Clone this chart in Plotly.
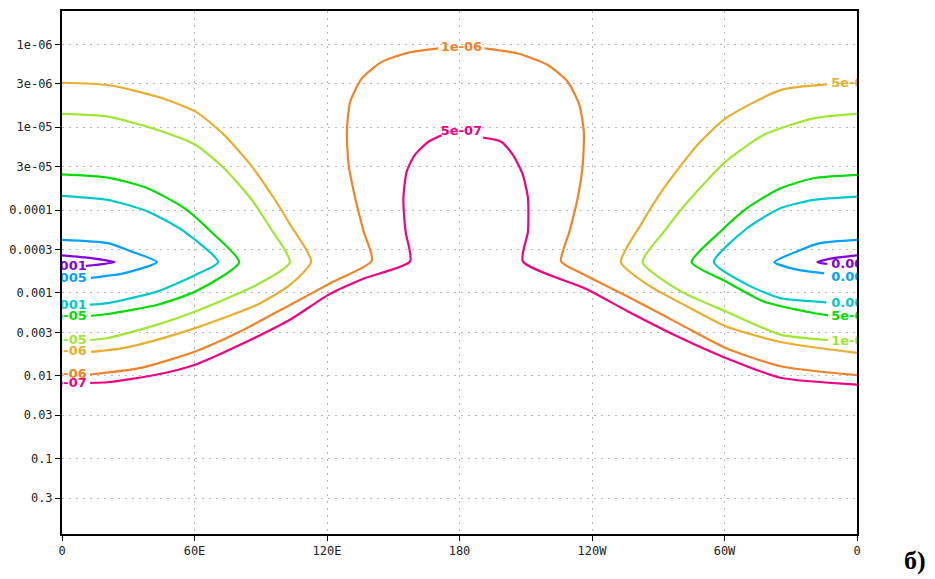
import math
import plotly.graph_objects as go

# Isoline levels and their GrADS-style colours
levels = [1e-3, 5e-4, 1e-4, 5e-5, 1e-5, 5e-6, 1e-6, 5e-7]
line_colors = ["#8200DC", "#00A0FF", "#00C8C8", "#00DC00",
               "#A0E632", "#E6AF2D", "#F08228", "#F00082"]

# Traced isolines: longitude (deg, 0..360 eastward) and pressure-like value
# on the log axis.  None separates the pieces of one isoline.
lon_1e3 = [0, 13.2, 23.8, 10.8, None, 346.5, 342.1, 349.3, 360]
p_1e3 = [3.53e-4, 3.81e-4, 4.26e-4, 4.73e-4, None, 4.48e-4, 4.26e-4, 3.81e-4, 3.53e-4]

lon_5e4 = [0, 20.8, 31.3, 43.0, 28.3, 13.1, None,
           345.1, 332.8, 322.6, 332.8, 343.3, 360]
p_5e4 = [2.29e-4, 2.51e-4, 3.16e-4, 4.26e-4, 5.77e-4, 6.59e-4, None,
         5.82e-4, 5.25e-4, 4.26e-4, 3.16e-4, 2.51e-4, 2.29e-4]

lon_1e4 = [0, 20.8, 38.8, 55.4, 70.7, 60.6, 43.3, 20.8, 12.6, None,
           346.0, 325.3, 310.2, 295.2, 310.2, 325.3, 340.3, 360]
p_1e4 = [6.74e-5, 7.54e-5, 1.04e-4, 1.82e-4, 4.26e-4, 6.04e-4, 9.59e-4, 1.33e-3, 1.39e-3, None,
         1.30e-3, 1.16e-3, 7.96e-4, 4.26e-4, 1.66e-4, 9.51e-5, 7.54e-5, 6.88e-5]

lon_5e5 = [0, 20.8, 38.8, 55.4, 67.4, 80.2, 60.6, 43.3, 20.8, 13.1, None,
           346.9, 340.3, 317.7, 300.5, 285.1, 298.2, 310.2, 325.3, 340.3, 360]
p_5e5 = [3.71e-5, 4.06e-5, 5.46e-5, 9.51e-5, 1.82e-4, 4.26e-4, 9.59e-4, 1.39e-3, 1.80e-3, 1.89e-3, None,
         1.87e-3, 1.75e-3, 1.27e-3, 7.26e-4, 4.26e-4, 1.82e-4, 9.51e-5, 5.46e-5, 4.14e-5, 3.77e-5]

lon_1e5 = [0, 20.8, 43.3, 60.6, 73.4, 85.4, 94.4, 103.2, 88.4, 60.6, 43.3, 20.8, 12.8, None,
           346.9, 325.3, 300.5, 280.2, 262.9, 272.6, 284.7, 300.5, 317.7, 340.3, 360]
p_1e5 = [6.93e-6, 7.47e-6, 1.08e-5, 1.64e-5, 3.13e-5, 7.21e-5, 1.66e-4, 4.26e-4, 7.96e-4,
         1.67e-3, 2.42e-3, 3.51e-3, 3.71e-3, None,
         3.71e-3, 3.19e-3, 1.67e-3, 9.59e-4, 4.26e-4, 1.82e-4, 7.21e-5, 2.61e-5, 1.24e-5, 7.83e-6, 6.93e-6]

lon_5e6 = [0, 20.8, 43.3, 60.6, 73.4, 85.4, 96.0, 103.4, 112.8, 103.4, 88.4, 60.6, 43.3, 28.3, 13.2, None,
           346.3, 325.3, 300.5, 287.7, 272.6, 262.1, 253.1, 265.1, 280.2, 300.5, 325.3, 360]
p_5e6 = [2.91e-6, 3.10e-6, 4.29e-6, 6.50e-6, 1.24e-5, 2.85e-5, 7.21e-5, 1.51e-4, 4.17e-4,
         7.96e-4, 1.39e-3, 2.65e-3, 3.67e-3, 4.62e-3, 5.17e-3, None,
         3.05e-6, 3.57e-6, 7.83e-6, 1.64e-5, 5.46e-5, 1.51e-4, 4.26e-4, 7.96e-4, 1.33e-3,
         2.53e-3, 3.92e-3, 5.31e-3]

lon_1e6 = [12.8, 35.8, 60.6, 80.9, 103.4, 122.3, 140.3, 136.6, 132.8, 129.8, 129.0, 130.5,
           135.8, 144.8, 156.9, 170.4, None,
           191.4, 206.5, 220.0, 229.0, 234.3, 236.3, 235.8, 233.5, 229.8, 226.0, 235.0,
           257.6, 280.2, 300.5, 325.3, 360]
p_1e6 = [9.68e-3, 8.05e-3, 5.07e-3, 2.91e-3, 1.39e-3, 7.46e-4, 4.09e-4, 1.82e-4, 7.21e-5,
         2.85e-5, 1.13e-5, 4.93e-6, 2.58e-6, 1.63e-6, 1.26e-6, 1.12e-6, None,
         1.12e-6, 1.29e-6, 1.78e-6, 2.83e-6, 5.41e-6, 1.13e-5, 2.85e-5, 7.21e-5, 1.82e-4,
         4.17e-4, 5.77e-4, 1.16e-3, 2.42e-3, 4.62e-3, 7.69e-3, 9.87e-3]

lon_5e7 = [12.8, 20.8, 43.3, 60.6, 80.9, 103.4, 120.8, 137.3, 157.6, 155.6, 154.6, 156.1,
           159.8, 165.9, 171.9, None,
           190.7, 198.9, 204.2, 208.7, 211.0, 211.0, 208.7, 238.1, 257.6, 280.2, 300.5, 325.3, 360]
p_5e7 = [1.22e-2, 1.20e-2, 9.68e-3, 7.33e-3, 4.21e-3, 2.10e-3, 1.05e-3, 6.63e-4, 4.17e-4,
         1.82e-4, 7.21e-5, 3.43e-5, 2.16e-5, 1.50e-5, 1.25e-5, None,
         1.34e-5, 1.50e-5, 2.16e-5, 3.77e-5, 7.21e-5, 1.82e-4, 4.17e-4, 9.15e-4, 1.75e-3,
         3.51e-3, 6.10e-3, 1.06e-2, 1.28e-2]

isolines = [(lon_1e3, p_1e3), (lon_5e4, p_5e4), (lon_1e4, p_1e4), (lon_5e5, p_5e5),
            (lon_1e5, p_1e5), (lon_5e6, p_5e6), (lon_1e6, p_1e6), (lon_5e7, p_5e7)]

# Contour label anchors: level index, longitude, value, text side
label_level = [0, 1, 2, 3, 4, 5, 6, 7,
               0, 1, 2, 3, 4, 5,
               6, 7]
label_lon = [11.2, 11.2, 11.2, 11.2, 11.2, 11.2, 11.2, 11.2,
             348.3, 348.3, 348.3, 348.3, 348.3, 348.3,
             180.9, 180.9]
label_p = [4.80e-4, 6.82e-4, 1.42e-3, 1.96e-3, 3.77e-3, 5.21e-3, 9.68e-3, 1.26e-2,
           4.54e-4, 6.64e-4, 1.36e-3, 1.92e-3, 3.84e-3, 2.96e-6,
           1.10e-6, 1.13e-5]
label_side = ["middle left"] * 8 + ["middle right"] * 6 + ["middle center"] * 2

# Axis ticks
x_tickvals = [0, 60, 120, 180, 240, 300, 360]
x_ticktext = ["0", "60E", "120E", "180", "120W", "60W", "0"]
y_tickvals = [1e-6, 3e-6, 1e-5, 3e-5, 1e-4, 3e-4, 1e-3, 3e-3, 1e-2, 3e-2, 0.1, 0.3]
y_ticktext = ["1e-06", "3e-06", "1e-05", "3e-05", "0.0001", "0.0003",
              "0.001", "0.003", "0.01", "0.03", "0.1", "0.3"]
y_bottom, y_top = 0.815, 3.96e-7

fig = go.Figure()

for (lon, p), color in zip(isolines, line_colors):
    fig.add_trace(go.Scatter(
        x=lon, y=p, mode="lines", connectgaps=False,
        line=dict(color=color, width=2.2, shape="spline", smoothing=0.6),
        hoverinfo="skip", showlegend=False, cliponaxis=True,
    ))

for i, lon, p, side in zip(label_level, label_lon, label_p, label_side):
    fig.add_trace(go.Scatter(
        x=[lon], y=[p], mode="text", text=[f"{levels[i]:g}"],
        textposition=side, cliponaxis=True,
        textfont=dict(family="DejaVu Sans", size=13, color=line_colors[i], weight="bold"),
        hoverinfo="skip", showlegend=False,
    ))

fig.add_annotation(
    text="б)", xref="paper", yref="paper", x=1.073, y=-0.05,
    xanchor="center", yanchor="middle", showarrow=False,
    font=dict(family="Liberation Serif", size=26, color="black", weight="bold"),
)

axis_font = dict(family="DejaVu Sans Mono", size=12, color="#222222")

fig.update_xaxes(
    range=[0, 360], tickvals=x_tickvals, ticktext=x_ticktext,
    showgrid=True, gridcolor="#b8b8b8", gridwidth=1, griddash="2px,5px",
    zeroline=False, showline=True, mirror=True, linecolor="black", linewidth=2,
    ticks="outside", ticklen=5, tickcolor="black", tickfont=axis_font,
)
fig.update_yaxes(
    type="log", range=[math.log10(y_bottom), math.log10(y_top)],
    tickvals=y_tickvals, ticktext=y_ticktext,
    showgrid=True, gridcolor="#b8b8b8", gridwidth=1, griddash="2px,5px",
    zeroline=False, showline=True, mirror=True, linecolor="black", linewidth=2,
    ticks="outside", ticklen=5, tickcolor="black", tickfont=axis_font,
)

fig.update_layout(
    width=935, height=579,
    margin=dict(l=59, r=78, t=9, b=45),
    paper_bgcolor="white", plot_bgcolor="white",
    showlegend=False,
)

fig.write_html("out.html")
